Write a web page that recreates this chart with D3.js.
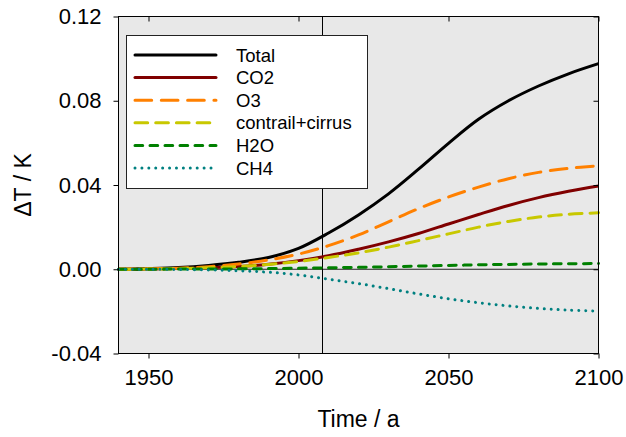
<!DOCTYPE html>
<html>
<head>
<meta charset="utf-8">
<script src="https://cdn.jsdelivr.net/npm/d3@7"></script>
<style>
  body { margin: 0; background: #fff; }
  text { font-family: "Liberation Sans", Arial, sans-serif; fill: #000; }
</style>
</head>
<body>
<div id="chart"></div>
<script>
// years sampled every decade
const years = [1940, 1950, 1960, 1970, 1980, 1990, 2000, 2010, 2020, 2030, 2040, 2050, 2060, 2070, 2080, 2090, 2100];

const total    = [0, 0.0003, 0.0008, 0.0018, 0.0033, 0.0056, 0.0099, 0.0172, 0.0258, 0.0358, 0.0475, 0.0598, 0.0712, 0.0800, 0.0870, 0.0928, 0.0976];
const co2      = [0, 0.0001, 0.0003, 0.0007, 0.0013, 0.0024, 0.0041, 0.0064, 0.0095, 0.0130, 0.0170, 0.0215, 0.0260, 0.0303, 0.0340, 0.0370, 0.0395];
const o3       = [0, 0.0002, 0.0005, 0.0012, 0.0025, 0.0044, 0.0072, 0.0112, 0.0163, 0.0225, 0.0288, 0.0343, 0.0390, 0.0430, 0.0460, 0.0479, 0.0491];
const contrail = [0, 0.0001, 0.0003, 0.0007, 0.0013, 0.0023, 0.0037, 0.0056, 0.0078, 0.0105, 0.0136, 0.0168, 0.0200, 0.0227, 0.0248, 0.0261, 0.0268];
const h2o      = [0, 0, 0.0001, 0.0001, 0.0002, 0.0003, 0.0005, 0.0007, 0.0009, 0.0012, 0.0015, 0.0018, 0.0021, 0.0023, 0.0025, 0.0026, 0.0027];
const ch4      = [0, 0, -0.0001, -0.0003, -0.0007, -0.0014, -0.0027, -0.0047, -0.0068, -0.0092, -0.0117, -0.0140, -0.0159, -0.0174, -0.0186, -0.0194, -0.0199];

const seriesNames = ['Total', 'CO2', 'O3', 'contrail+cirrus', 'H2O', 'CH4'];
const xTicks = [1950, 2000, 2050, 2100];
const yTicks = [-0.04, 0.00, 0.04, 0.08, 0.12];
const markYear = 2008;

let series = [
    {name: seriesNames[0], values: total, color: '#000000', dash: null},
    {name: seriesNames[1], values: co2, color: '#800000', dash: null},
    {name: seriesNames[2], values: o3, color: '#ff8000', dash: '16.7,9.6'},
    {name: seriesNames[3], values: contrail, color: '#c8c800', dash: '12.7,8'},
    {name: seriesNames[4], values: h2o, color: '#008000', dash: '7.7,7.3'},
    {name: seriesNames[5], values: ch4, color: '#008080', dash: '0.01,6.9'}
];

let dim = {'width': 626, 'height': 437};
let svg = d3.select('#chart').append('svg')
            .attr('width', dim.width)
            .attr('height', dim.height);

let x = d3.scaleLinear().domain([1940, 2100]).range([118.5, 598.5]);
let y = d3.scaleLinear().domain([-0.04, 0.12]).range([353.5, 16.5]);

// plot background
svg.append('rect')
    .attr('x', x(1940)).attr('y', y(0.12))
    .attr('width', x(2100) - x(1940)).attr('height', y(-0.04) - y(0.12))
    .attr('fill', '#e8e8e8');

// zero line and 2008 marker
svg.append('line')
    .attr('x1', x(1940)).attr('x2', x(2100))
    .attr('y1', y(0)).attr('y2', y(0))
    .attr('stroke', '#222').attr('stroke-width', 1.2);
svg.append('line')
    .attr('x1', x(markYear)).attr('x2', x(markYear))
    .attr('y1', y(0.12)).attr('y2', y(-0.04))
    .attr('stroke', '#000').attr('stroke-width', 1);

// curves
let line = d3.line()
    .x((d, i) => x(years[i]))
    .y(d => y(d))
    .curve(d3.curveCatmullRom.alpha(0.5));

svg.selectAll('path.series')
    .data(series)
    .join('path')
    .attr('class', 'series')
    .attr('d', d => line(d.values))
    .attr('fill', 'none')
    .attr('stroke', d => d.color)
    .attr('stroke-width', 3)
    .attr('stroke-linecap', d => d.dash ? 'round' : 'butt')
    .attr('stroke-dasharray', d => d.dash);

// legend
let legend = svg.append('g');
legend.append('rect')
    .attr('x', 126.5).attr('y', 35.5)
    .attr('width', 241).attr('height', 153)
    .attr('fill', '#fff').attr('stroke', '#222').attr('stroke-width', 1);

let rows = legend.selectAll('g.row')
    .data(series)
    .join('g')
    .attr('class', 'row')
    .attr('transform', (d, i) => 'translate(0,' + (55 + i * 22.6) + ')');

rows.append('line')
    .attr('x1', 135).attr('x2', 216)
    .attr('y1', 0).attr('y2', 0)
    .attr('stroke', d => d.color)
    .attr('stroke-width', 3)
    .attr('stroke-linecap', 'round')
    .attr('stroke-dasharray', d => d.dash);

rows.append('text')
    .attr('x', 236).attr('y', 0).attr('dy', '0.36em')
    .style('font-size', '18.5px')
    .text(d => d.name);

// axes
let yAxis = svg.append('g')
    .attr('transform', 'translate(' + x(1940) + ',0)')
    .call(d3.axisLeft(y).tickValues(yTicks).tickSize(5).tickSizeOuter(0).tickPadding(12)
        .tickFormat(d => d.toFixed(2)));
let xAxis = svg.append('g')
    .attr('transform', 'translate(0,' + y(-0.04) + ')')
    .call(d3.axisBottom(x).tickValues(xTicks).tickSize(5).tickSizeOuter(0).tickPadding(11)
        .tickFormat(d3.format('d')));
svg.append('g')
    .attr('transform', 'translate(0,' + y(0.12) + ')')
    .call(d3.axisTop(x).tickValues(xTicks).tickSize(-5).tickSizeOuter(0).tickFormat(''));
svg.append('g')
    .attr('transform', 'translate(' + x(2100) + ',0)')
    .call(d3.axisRight(y).tickValues(yTicks).tickSize(-5).tickSizeOuter(0).tickFormat(''));

svg.selectAll('.domain').remove();
svg.selectAll('.tick line').attr('stroke', '#000');
yAxis.selectAll('text').style('font-size', '22px').attr('fill', '#000');
xAxis.selectAll('text').style('font-size', '22px').attr('fill', '#000');

// frame
svg.append('rect')
    .attr('x', x(1940)).attr('y', y(0.12))
    .attr('width', x(2100) - x(1940)).attr('height', y(-0.04) - y(0.12))
    .attr('fill', 'none').attr('stroke', '#000').attr('stroke-width', 1);

// titles
svg.append('text')
    .attr('x', (x(1940) + x(2100)) / 2).attr('y', 427)
    .attr('text-anchor', 'middle')
    .style('font-size', '23px')
    .text('Time / a');
svg.append('text')
    .attr('transform', 'translate(31,' + ((y(0.12) + y(-0.04)) / 2) + ') rotate(-90)')
    .attr('text-anchor', 'middle')
    .style('font-size', '23px')
    .text('ΔT / K');
</script>
</body>
</html>
